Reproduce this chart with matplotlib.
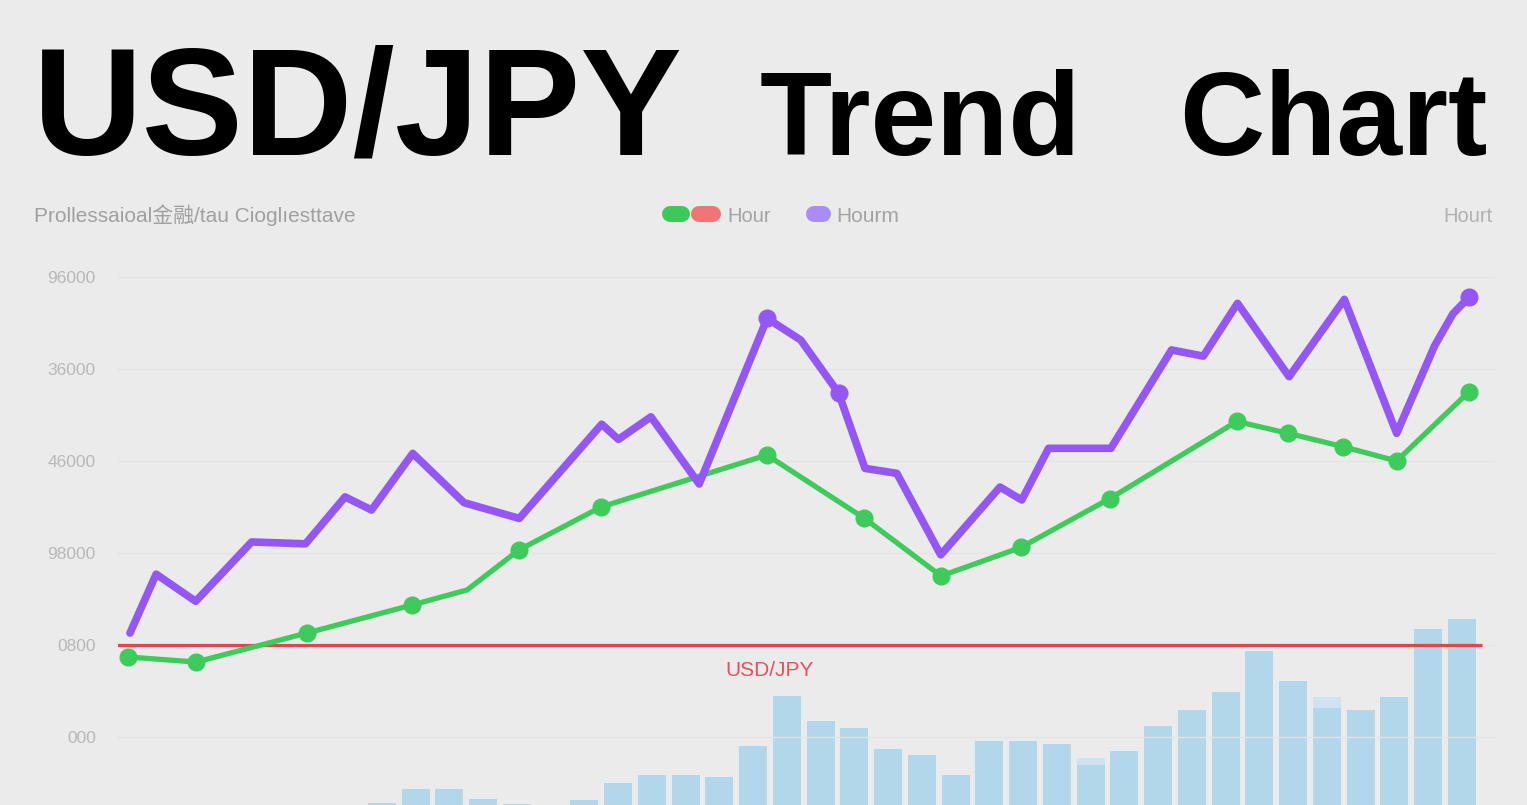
import numpy as np
import matplotlib
matplotlib.use("Agg")
import matplotlib.pyplot as plt
from matplotlib.lines import Line2D

# ---------------- data ----------------
green_x = [0.0, 2.03, 5.34, 8.48, 10.12, 11.67, 14.12, 19.07, 21.97, 24.27, 26.65, 29.3, 33.1, 34.64, 36.28, 37.87, 40.03]
green_y = [870, 815, 1130, 1435, 1598, 2033, 2500, 3065, 2380, 1750, 2060, 2590, 3430, 3300, 3155, 3000, 3753]
green_markers = [0, 1, 2, 3, 5, 6, 7, 8, 9, 10, 11, 12, 13, 14, 15, 16]

purple_x = [0.06, 0.84, 2.02, 3.69, 5.3, 6.48, 7.27, 8.5, 10.03, 11.68, 14.14, 14.64, 15.61, 17.05,
            19.08, 20.08, 21.21, 22.0, 22.95, 24.26, 26.03, 26.68, 27.48, 29.34, 31.15, 32.1, 33.12,
            34.66, 36.31, 37.87, 39.0, 39.55, 40.03]
purple_y = [1130, 1770, 1475, 2120, 2100, 2610, 2467, 3083, 2547, 2376, 3400, 3235, 3480, 2750,
            4550, 4315, 3740, 2920, 2866, 1980, 2717, 2576, 3138, 3138, 4207, 4140, 4714,
            3916, 4757, 3300, 4250, 4600, 4780]
purple_markers = [14, 16, 32]

bar_values = [47, 61, 61, 51, 46, 40, 50, 67, 75, 75, 73, 104, 154, 129, 122, 101, 95, 75,
              109, 109, 106, 85, 99, 124, 140, 158, 199, 169, 142, 140, 153, 221, 231]
bar_ghost = [0, 0, 0, 0, 0, 0, 0, 0, 0, 0, 0, 0, 0, 0, 0, 0, 0, 0,
             0, 0, 0, 92, 0, 0, 0, 0, 0, 0, 153, 0, 0, 0, 0]
bar_x = list(np.arange(len(bar_values)) * 1.0075 + 7.58)

ref_level = 1000
y_ticks = [0, 1000, 2000, 3000, 4000, 5000]
y_tick_labels = ["000", "0800", "98000", "46000", "36000", "96000"]

title_main = "USD/JPY"
title_words = ["Trend", "Chart"]
subtitle = "Prollessaioal金融/tau Cioglıesttave"
legend_labels = ["Hour", "Hourm"]
right_label = "Hourt"
ref_label = "USD/JPY"

# ---------------- colours ----------------
BG = "#ebebeb"
GREEN = "#3fcb5b"
PURPLE = "#9457f5"
BAR = "#b2d6ea"
BAR_GHOST = "#cde3ef"
RED = "#e0474d"
GRAY = "#a3a3a3"

W, H = 1527, 805
fig = plt.figure(figsize=(W / 100, H / 100), dpi=100, facecolor=BG)

def fx(px):
    return px / W

def fy(py):
    return 1 - py / H

ax_left, ax_right, ax_top, ax_bot = 118, 1495, 262, 850
rect = [fx(ax_left), fy(ax_bot), (ax_right - ax_left) / W, (ax_bot - ax_top) / H]
axb = fig.add_axes(rect)
ax = axb.twinx()
ax.set_position(rect)
axb.set_position(rect)

for a in (ax, axb):
    a.set_facecolor("none")
    for s in a.spines.values():
        s.set_visible(False)

xmin, xmax = (ax_left - 128) / 33.5, (ax_right - 128) / 33.5
ymin, ymax = (737 - ax_bot) / 92 * 1000, (737 - ax_top) / 92 * 1000

axb.set_xlim(xmin, xmax)
axb.set_ylim(0, ax_bot - ax_top)
axb.patch.set_facecolor(BG)
axb.bar(bar_x, bar_ghost, width=0.835, color=BAR_GHOST, zorder=1)
axb.bar(bar_x, bar_values, width=0.835, color=BAR, zorder=2)
axb.set_yticks([])
axb.set_xticks([])

ax.set_zorder(axb.get_zorder() + 1)
ax.patch.set_visible(False)
ax.set_xlim(xmin, xmax)
ax.set_ylim(ymin, ymax)
ax.yaxis.tick_left()
ax.set_yticks(y_ticks)
ax.set_yticklabels(y_tick_labels)
ax.tick_params(axis="y", length=0, pad=16, labelsize=12.5, labelcolor="#b8b8b8")
for lbl in ax.get_yticklabels():
    lbl.set_fontfamily("Liberation Sans")
ax.set_xticks([])
ax.grid(axis="y", color="#e4e4e4", linewidth=1.0, zorder=0)
ax.set_axisbelow(True)

ax.hlines(ref_level, -0.45, 40.42, color=RED, linewidth=2.3, zorder=3)
ax.text(19.16, 728, ref_label, color="#e8505a", fontsize=15, ha="center", va="center",
        family="Liberation Sans", zorder=3)

ax.plot(green_x, green_y, color=GREEN, linewidth=3.8, marker="o", markersize=12,
        markevery=green_markers, solid_capstyle="round", solid_joinstyle="round", zorder=4)
ax.plot(purple_x, purple_y, color=PURPLE, linewidth=5.5, marker="o", markersize=12,
        markevery=purple_markers, solid_capstyle="round", solid_joinstyle="round", zorder=5)

renderer = fig.canvas.get_renderer()

def fitted_text(x0, x1, base_y, s, size, **kw):
    t = fig.text(fx(x0), fy(base_y), s, fontsize=size, ha="left", va="baseline", **kw)
    w = t.get_window_extent(renderer).width
    t.set_fontsize(size * (x1 - x0) / w)
    return t

fitted_text(33, 683, 155, title_main, 110, fontweight="bold", family="Liberation Sans", color="black")
fig.text(fx(920), fy(155), title_words[0], fontsize=85, fontweight="bold", family="Liberation Sans",
         color="black", ha="center", va="baseline")
fig.text(fx(1333), fy(155), title_words[1], fontsize=85, fontweight="bold", family="Liberation Sans",
         color="black", ha="center", va="baseline")
fitted_text(34, 358, 222, subtitle, 14, color="#a0a0a0",
            family=["Liberation Sans", "Noto Sans CJK SC", "DejaVu Sans"])

def pill(x0, x1, y, color):
    fig.add_artist(Line2D([fx(x0), fx(x1)], [fy(y), fy(y)], transform=fig.transFigure,
                          color=color, linewidth=11.5, solid_capstyle="round"))

pill(670, 682, 214, "#3dc95a")
pill(699, 713, 214, "#f07575")
pill(814, 823, 214, "#a98cf5")
fig.text(fx(727), fy(216), legend_labels[0], fontsize=14.5, color=GRAY, ha="left", va="center",
         family="Liberation Sans")
fig.text(fx(836), fy(216), legend_labels[1], fontsize=15, color=GRAY, ha="left", va="center",
         family="Liberation Sans")
fig.text(fx(1493), fy(216), right_label, fontsize=14.5, color="#b0b0b0", ha="right", va="center",
         family="Liberation Sans")

fig.savefig("out.png", dpi=100, facecolor=BG)
